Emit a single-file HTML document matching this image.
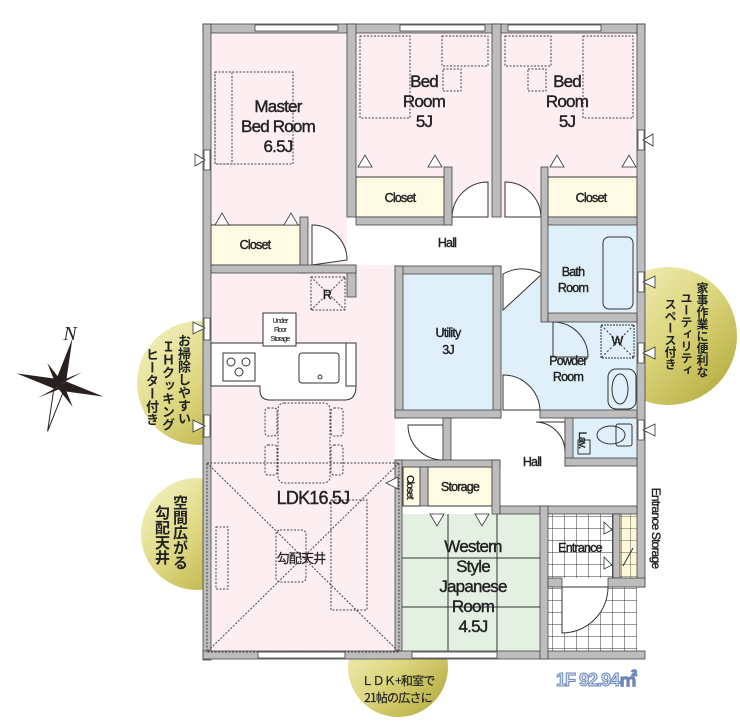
<!DOCTYPE html>
<html><head><meta charset="utf-8"><style>
html,body{margin:0;padding:0;background:#fff}
#w{position:relative;width:740px;height:722px;overflow:hidden;font-family:"Liberation Sans","Noto Sans CJK JP",sans-serif}
.v{position:absolute;writing-mode:vertical-rl;font-family:"Noto Sans CJK JP",sans-serif;font-weight:bold;color:#222;line-height:1}
</style></head><body><div id="w">
<svg width="740" height="722" viewBox="0 0 740 722" xmlns="http://www.w3.org/2000/svg" style="position:absolute;left:0;top:0">
<defs>
<linearGradient id="g" x1="0" y1="0" x2="1" y2="1"><stop offset="0" stop-color="#f7f5c8"/><stop offset="0.5" stop-color="#dcd67e"/><stop offset="1" stop-color="#aea533"/></linearGradient>
<pattern id="tile" width="12" height="12" patternUnits="userSpaceOnUse"><rect width="12" height="12" fill="#fff"/><path d="M0 0H12M0 0V12" stroke="#333" stroke-width="1"/></pattern>
<pattern id="tileY" width="9" height="12" patternUnits="userSpaceOnUse"><rect width="9" height="12" fill="#fdf8d8"/><path d="M0 0H9M0 0V12" stroke="#333" stroke-width="0.8"/></pattern>
</defs>
<circle cx="199" cy="383" r="62" fill="url(#g)"/>
<circle cx="197" cy="534" r="56" fill="url(#g)"/>
<circle cx="398" cy="667" r="50" fill="url(#g)"/>
<circle cx="668" cy="336" r="69" fill="url(#g)"/>
<g transform="translate(60,385) rotate(15)" fill="#2a1f1f">
<polygon points="0,-48 5,-5 0,0 -5,-5"/><polygon points="0,48 5,5 0,0 -5,5" fill="#fff" stroke="#2a1f1f"/>
<polygon points="-45,0 -5,-5 0,0 -5,5"/><polygon points="45,0 5,-5 0,0 5,5"/>
<polygon points="-18,-18 2,-3 0,0 -3,2" /><polygon points="18,18 -2,3 0,0 3,-2"/>
<polygon points="18,-18 -3,2 0,0 -2,-3"/><polygon points="-18,18 3,-2 0,0 2,3"/>
</g>
<text x="70" y="340" font-family="Liberation Serif,serif" font-style="italic" font-size="20" fill="#222" text-anchor="middle">N</text>
<rect x="211" y="33" width="426" height="620" fill="#fff"/>
<rect x="211" y="33" width="136" height="232" fill="#fdeef2"/>
<rect x="356" y="33" width="136" height="184" fill="#fdeef2"/>
<rect x="501" y="33" width="136" height="184" fill="#fdeef2"/>
<rect x="211" y="273" width="184" height="378" fill="#fdeef2"/>
<rect x="356" y="265" width="39" height="195" fill="#fdeef2"/>
<rect x="211" y="225" width="89" height="40" fill="#fdfbe3" stroke="#333"/>
<rect x="356" y="177" width="88" height="40" fill="#fdfbe3" stroke="#333"/>
<rect x="548" y="177" width="89" height="40" fill="#fdfbe3" stroke="#333"/>
<rect x="548" y="225" width="89" height="88" fill="#dff0fa"/>
<rect x="403" y="274" width="90" height="136" fill="#dff0fa"/>
<rect x="501" y="274" width="136" height="136" fill="#dff0fa"/>
<rect x="573" y="418" width="64" height="40" fill="#dff0fa"/>
<rect x="403" y="467" width="17" height="39" fill="#fdfbe3" stroke="#333"/>
<rect x="428" y="467" width="64" height="39" fill="#fdfbe3" stroke="#333"/>
<rect x="402" y="514" width="138" height="137" fill="#e3f0e2"/>
<path d="M448 514V651M497 514V651M402 558H540M402 607H540" stroke="#333" stroke-width="1"/>
<rect x="548" y="514" width="65" height="64" fill="url(#tile)"/>
<rect x="620" y="514" width="17" height="64" fill="url(#tileY)"/>
<rect x="548" y="587" width="89" height="64" fill="url(#tile)"/>
<g fill="#fff" stroke="#333" stroke-width="1">
<path d="M312 265V225A35 35 0 0 1 347 260Z"/>
<path d="M488 217H452A36 36 0 0 1 488 182Z"/>
<path d="M505 217V182A36 36 0 0 1 541 217Z"/>
<path d="M503 310V274A40 40 0 0 1 542 274Z"/>
<path d="M503 375A37 37 0 0 1 540 410H503Z"/>
<path d="M443 460A35 35 0 0 1 408 425H443Z"/>
<path d="M536 422A30 30 0 0 1 565 452V422Z"/>
<path d="M562 587H608A46 46 0 0 1 562 633Z"/>
<path d="M553 322A35 35 0 0 1 588 357H553Z" fill="none"/>
</g>
<g fill="#bdbdbd" stroke="#444" stroke-width="0.8">
<rect x="203" y="24" width="442" height="9"/>
<rect x="203" y="24" width="8" height="636"/>
<rect x="637" y="24" width="8" height="563"/>
<rect x="203" y="651" width="442" height="8"/>
<rect x="347" y="24" width="9" height="193"/>
<rect x="347" y="265" width="9" height="32"/>
<rect x="492" y="24" width="9" height="193"/>
<rect x="356" y="217" width="96" height="8"/>
<rect x="444" y="167" width="8" height="58"/>
<rect x="541" y="167" width="7" height="155"/>
<rect x="548" y="217" width="89" height="8"/>
<rect x="548" y="313" width="89" height="9"/>
<rect x="300" y="217" width="8" height="56"/>
<rect x="211" y="265" width="145" height="8"/>
<rect x="395" y="266" width="106" height="8"/>
<rect x="395" y="266" width="8" height="152"/>
<rect x="493" y="266" width="8" height="152"/>
<rect x="395" y="410" width="106" height="8"/>
<rect x="540" y="410" width="97" height="8"/>
<rect x="443" y="418" width="8" height="42"/>
<rect x="565" y="418" width="8" height="48"/>
<rect x="565" y="458" width="72" height="8"/>
<rect x="395" y="460" width="105" height="7"/>
<rect x="395" y="460" width="7" height="191"/>
<rect x="492" y="460" width="8" height="54"/>
<rect x="420" y="467" width="8" height="39"/>
<rect x="500" y="506" width="137" height="8"/>
<rect x="540" y="506" width="8" height="153"/>
<rect x="613" y="514" width="7" height="64"/>
<rect x="548" y="578" width="14" height="9"/>
<rect x="608" y="578" width="37" height="9"/>
</g>
<g fill="#fff" stroke="#444" stroke-width="0.8">
<rect x="255" y="25" width="83" height="6"/><rect x="400" y="25" width="85" height="6"/><rect x="508" y="25" width="93" height="6"/>
<rect x="258" y="652" width="87" height="6"/><rect x="412" y="652" width="85" height="6"/>
<rect x="204" y="150" width="6" height="20"/><rect x="204" y="318" width="6" height="22"/><rect x="204" y="415" width="6" height="22"/>
<rect x="638" y="130" width="6" height="20"/><rect x="638" y="272" width="6" height="20"/><rect x="638" y="343" width="6" height="20"/><rect x="638" y="420" width="6" height="20"/>
</g>
<g fill="#fff" stroke="#333" stroke-width="0.8">
<path d="M205 160l-10 -6v12z"/><path d="M205 328l-12 -6v12z"/><path d="M205 426l-12 -6v12z"/>
<path d="M643 140l10 -6v12z"/><path d="M643 282l12 -6v12z"/><path d="M643 353l12 -6v12z"/><path d="M643 430l12 -6v12z"/>
<path d="M215 225l7 -12 7 12zM284 225l7 -12 7 12zM358 167l7 -12 7 12zM428 167l7 -12 7 12zM550 167l7 -12 7 12zM622 167l7 -12 7 12z"/>
<path d="M430 514l7 12 7 -12zM475 514l7 12 7 -12zM398 477l-12 6 12 6z"/>
<path d="M612 530l-8 -8v12zM612 565l-8 -8v12z"/>
</g>
<g fill="none" stroke="#333" stroke-width="1">
<rect x="603" y="237" width="30" height="72" rx="6"/>
<rect x="601" y="325" width="33" height="33" stroke-dasharray="2,1"/>
<path d="M601 325l33 33M634 325l-33 33" stroke-dasharray="2,2"/>
<rect x="608" y="369" width="28" height="40" rx="8"/>
<ellipse cx="620" cy="389" rx="8" ry="15"/>
<rect x="616" y="424" width="16" height="22" rx="2"/><ellipse cx="611" cy="435" rx="14" ry="9"/>
<rect x="578" y="440" width="12" height="14"/>
</g>
<g fill="#fff" stroke="#333" stroke-width="1">
<path d="M211 343H356V386Q356 400 345 400H270Q260 400 260 390V386H211Z"/>
<rect x="346" y="343" width="10" height="43"/>
<rect x="223" y="353" width="32" height="28"/>
<circle cx="231" cy="362" r="4"/><circle cx="246" cy="362" r="4"/><circle cx="239" cy="372" r="4"/>
<rect x="299" y="353" width="40" height="30" rx="3"/><circle cx="320" cy="377" r="2"/>
<rect x="263" y="313" width="33" height="33"/>
</g>
<g fill="none" stroke="#444" stroke-width="1" stroke-dasharray="2,1.5">
<rect x="311" y="277" width="34" height="33"/><path d="M311 277l34 33M345 277l-34 33"/>
<rect x="278" y="403" width="52" height="80" rx="6"/>
<rect x="265" y="408" width="12" height="28" rx="3"/><rect x="265" y="445" width="12" height="30" rx="3"/>
<rect x="331" y="408" width="12" height="28" rx="3"/><rect x="331" y="445" width="12" height="30" rx="3"/>
<rect x="331" y="500" width="36" height="110"/><rect x="276" y="530" width="30" height="52" rx="4"/>
<rect x="216" y="527" width="12" height="62"/>
<rect x="215" y="72" width="78" height="92"/><rect x="215" y="72" width="17" height="92"/>
<rect x="360" y="36" width="50" height="82"/><rect x="442" y="36" width="46" height="30"/><rect x="443" y="69" width="18" height="22"/>
<rect x="505" y="36" width="46" height="30"/><rect x="528" y="69" width="18" height="22"/><rect x="583" y="36" width="50" height="82"/>
<path d="M207 463H399V652H207ZM207 463L399 652M399 463L207 652"/>
</g>
<g font-family="Liberation Sans,sans-serif" fill="#222" stroke="#222" stroke-width="0.4" text-anchor="middle" letter-spacing="-0.8">
<g font-size="17"><text x="278" y="112">Master</text><text x="278" y="132">Bed Room</text><text x="278" y="152">6.5J</text>
<text x="424" y="87">Bed</text><text x="424" y="107">Room</text><text x="424" y="127">5J</text>
<text x="567" y="87">Bed</text><text x="567" y="107">Room</text><text x="567" y="127">5J</text>
<text x="473" y="552">Western</text><text x="473" y="572">Style</text><text x="473" y="592">Japanese</text><text x="473" y="612">Room</text><text x="473" y="632">4.5J</text></g>
<text x="313" y="504" font-size="18">LDK16.5J</text>
<g font-size="12.5"><text x="255" y="249">Closet</text><text x="400" y="202">Closet</text><text x="591" y="202">Closet</text>
<text x="447" y="247">Hall</text><text x="532" y="466">Hall</text><text x="460" y="491">Storage</text><text x="580" y="552">Entrance</text>
<text x="448" y="337">Utility</text><text x="448" y="354">3J</text><text x="568" y="365">Powder</text><text x="568" y="381">Room</text>
<text x="573" y="276">Bath</text><text x="573" y="292">Room</text><text x="617" y="345">W</text><text x="327" y="299">R</text></g>
<g font-size="7" stroke-width="0.1"><text x="280" y="323">Under</text><text x="280" y="332">Floor</text><text x="280" y="341">Storage</text></g>
<text x="410" y="487" font-size="10" transform="rotate(90 410 487)" dy="3">Closet</text>
<text x="582" y="440" font-size="11" transform="rotate(90 582 440)" dy="3">Lav.</text>
<text x="656" y="528" font-size="12" transform="rotate(90 656 528)" dy="4">Entrance Storage</text>
<text x="301" y="563" font-size="13" stroke-width="0.2" font-family="Noto Sans CJK JP,sans-serif">勾配天井</text>
<text x="398" y="685" font-size="12" stroke-width="0.2" font-family="Noto Sans CJK JP,sans-serif">ＬＤＫ+和室で</text>
<text x="398" y="702" font-size="12" stroke-width="0.2" font-family="Noto Sans CJK JP,sans-serif">21帖の広さに</text>
<text x="596" y="686" font-size="18" font-weight="bold" fill="#dce6f4" stroke="#6d87b8" stroke-width="1" letter-spacing="-1">1F 92.94㎡</text>
</g>
<path d="M633 548l-10 18" stroke="#333"/>
</svg>
<div class="v" style="left:178px;top:334px;font-size:13px">お掃除しやすい</div>
<div class="v" style="left:162px;top:340px;font-size:13px">ＩＨクッキング</div>
<div class="v" style="left:146px;top:348px;font-size:13px">ヒーター付き</div>
<div class="v" style="left:173px;top:495px;font-size:15px">空間広がる</div>
<div class="v" style="left:155px;top:505px;font-size:15px">勾配天井</div>
<div class="v" style="left:696px;top:282px;font-size:12px">家事作業に便利な</div>
<div class="v" style="left:680px;top:292px;font-size:12px">ユーティリティ</div>
<div class="v" style="left:664px;top:298px;font-size:12px">スペース付き</div>
</div></body></html>
